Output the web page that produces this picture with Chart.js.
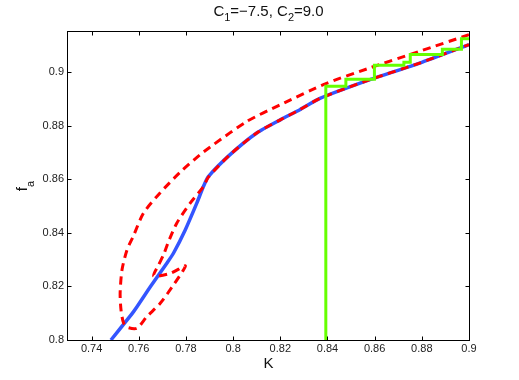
<!DOCTYPE html>
<html>
<head>
<meta charset="utf-8">
<script src="https://cdn.jsdelivr.net/npm/chart.js@4.4.1/dist/chart.umd.min.js"></script>
<style>
  html, body { margin: 0; padding: 0; background: #fff; }
  canvas { display: block; }
</style>
</head>
<body>
<canvas id="chart" width="519" height="380"></canvas>
<script>
// tick positions
const xTicks = [0.74, 0.76, 0.78, 0.8, 0.82, 0.84, 0.86, 0.88, 0.9];
const yTicks = [0.8, 0.82, 0.84, 0.86, 0.88, 0.9];

// blue solid branch
const blueK  = [0.7482, 0.7578, 0.7649, 0.7719, 0.7747, 0.7797, 0.7846, 0.7874, 0.7895, 0.7987, 0.8100, 0.8200, 0.8283, 0.8368, 0.8580, 0.8791, 0.9000];
const blueFa = [0.8000, 0.8106, 0.8199, 0.8287, 0.8324, 0.8411, 0.8511, 0.8573, 0.8610, 0.8692, 0.8773, 0.8822, 0.8860, 0.8902, 0.8972, 0.9034, 0.9103];

// red dashed loop (upper branch -> bottom -> tip -> back along blue)
const redK  = [0.9000, 0.8791, 0.8580, 0.8396, 0.8199, 0.8058, 0.7916, 0.7860, 0.7775, 0.7691, 0.7620, 0.7578, 0.7550, 0.7529, 0.7521, 0.7525, 0.7535, 0.7550, 0.7592, 0.7634, 0.7691, 0.7750, 0.7790, 0.7797, 0.7734, 0.7663, 0.7684, 0.7705, 0.7726, 0.7761, 0.7818, 0.7874, 0.7895, 0.7987, 0.8100, 0.8200, 0.8283, 0.8368, 0.8580, 0.8791, 0.9000];
const redFa = [0.9140, 0.9078, 0.9016, 0.8958, 0.8878, 0.8816, 0.8729, 0.8692, 0.8626, 0.8550, 0.8474, 0.8390, 0.8336, 0.8262, 0.8175, 0.8110, 0.8065, 0.8048, 0.8044, 0.8087, 0.8137, 0.8209, 0.8262, 0.8277, 0.8249, 0.8239, 0.8280, 0.8318, 0.8367, 0.8436, 0.8511, 0.8573, 0.8608, 0.8692, 0.8773, 0.8822, 0.8860, 0.8902, 0.8972, 0.9034, 0.9103];

// green staircase
const greenK  = [0.8393, 0.8393, 0.8478, 0.8599, 0.8724, 0.8751, 0.8887, 0.8968, 0.9000];
const greenFa = [0.8000, 0.8947, 0.8974, 0.9026, 0.9037, 0.9066, 0.9086, 0.9125, 0.9125];

const FONT = '"Liberation Sans", Arial, Helvetica, sans-serif';

function pts(xs, ys) {
    return xs.map((v, i) => ({ x: v, y: ys[i] }));
}

// draws text made of [string, isSubscript] parts
function drawParts(ctx, parts, x0, y0, size, subSize, subShift) {
    let x = x0;
    parts.forEach(([s, sub]) => {
        ctx.font = (sub ? subSize : size) + 'px ' + FONT;
        ctx.fillText(s, x, sub ? y0 + subShift : y0);
        x += ctx.measureText(s).width;
    });
}
function partsWidth(ctx, parts, size, subSize) {
    let w = 0;
    parts.forEach(([s, sub]) => {
        ctx.font = (sub ? subSize : size) + 'px ' + FONT;
        w += ctx.measureText(s).width;
    });
    return w;
}

const framePlugin = {
    id: 'frame',
    afterDraw(chart) {
        const { ctx, chartArea: a, scales: { x, y } } = chart;
        ctx.save();
        ctx.strokeStyle = '#000';
        ctx.lineWidth = 1;
        const L = Math.round(a.left) - 0.5, R = Math.round(a.right) + 0.5;
        const T = Math.round(a.top) - 0.5, B = Math.round(a.bottom) + 0.5;
        ctx.strokeRect(L, T, R - L, B - T);

        // inward ticks on all four sides
        ctx.beginPath();
        xTicks.forEach(v => {
            const px = Math.round(x.getPixelForValue(v)) + 0.5;
            ctx.moveTo(px, B); ctx.lineTo(px, B - 4);
            ctx.moveTo(px, T); ctx.lineTo(px, T + 4);
        });
        yTicks.forEach(v => {
            const py = Math.round(y.getPixelForValue(v)) + 0.5;
            ctx.moveTo(L, py); ctx.lineTo(L + 4, py);
            ctx.moveTo(R, py); ctx.lineTo(R - 4, py);
        });
        ctx.stroke();

        ctx.fillStyle = '#111';
        ctx.textBaseline = 'alphabetic';
        ctx.textAlign = 'left';

        // title
        const title = [['C', 0], ['1', 1], ['=\u22127.5, C', 0], ['2', 1], ['=9.0', 0]];
        const cx = (a.left + a.right) / 2;
        const tw = partsWidth(ctx, title, 15, 11);
        drawParts(ctx, title, cx - tw / 2, 16, 15, 11, 5);

        // x label
        ctx.font = '15px ' + FONT;
        ctx.textAlign = 'center';
        ctx.fillText('K', cx, 368);
        ctx.textAlign = 'left';

        // y label f_a
        const yl = [['f', 0], ['a', 1]];
        const yw = partsWidth(ctx, yl, 15, 11);
        ctx.translate(26.5, (a.top + a.bottom) / 2);
        ctx.rotate(-Math.PI / 2);
        drawParts(ctx, yl, -yw / 2, 0, 15, 11, 7);
        ctx.restore();
    }
};

const fmt = v => String(Math.round(v * 100) / 100);

new Chart(document.getElementById('chart').getContext('2d'), {
    type: 'scatter',
    data: {
        datasets: [
            {
                label: 'green',
                data: pts(greenK, greenFa),
                showLine: true,
                stepped: true,
                borderColor: '#66ff00',
                borderWidth: 3,
                pointRadius: 0,
                order: 0
            },
            {
                label: 'red',
                data: pts(redK, redFa),
                showLine: true,
                tension: 0.25,
                borderColor: '#ff0000',
                borderWidth: 3,
                borderDash: [8, 5.5],
                pointRadius: 0,
                order: 1
            },
            {
                label: 'blue',
                data: pts(blueK, blueFa),
                showLine: true,
                tension: 0.2,
                borderColor: '#3355ff',
                borderWidth: 3.5,
                pointRadius: 0,
                order: 2
            }
        ]
    },
    options: {
        responsive: false,
        animation: false,
        devicePixelRatio: 1,
        events: [],
        layout: { padding: { left: 0, right: 50, top: 32, bottom: 0 } },
        plugins: {
            legend: { display: false },
            tooltip: { enabled: false }
        },
        scales: {
            x: {
                type: 'linear',
                min: 0.73,
                max: 0.9,
                afterBuildTicks: s => { s.ticks = xTicks.map(v => ({ value: v })); },
                afterFit: s => { s.height = 40; },
                grid: { display: false, drawTicks: false },
                border: { display: false },
                ticks: {
                    color: '#222',
                    font: { family: FONT, size: 11 },
                    padding: 2,
                    maxRotation: 0,
                    autoSkip: false,
                    callback: fmt
                }
            },
            y: {
                type: 'linear',
                min: 0.8,
                max: 0.915,
                afterBuildTicks: s => { s.ticks = yTicks.map(v => ({ value: v })); },
                afterFit: s => { s.width = 68; },
                grid: { display: false, drawTicks: false },
                border: { display: false },
                ticks: {
                    color: '#222',
                    font: { family: FONT, size: 11 },
                    padding: 4,
                    autoSkip: false,
                    callback: fmt
                }
            }
        }
    },
    plugins: [framePlugin]
});
</script>
</body>
</html>
